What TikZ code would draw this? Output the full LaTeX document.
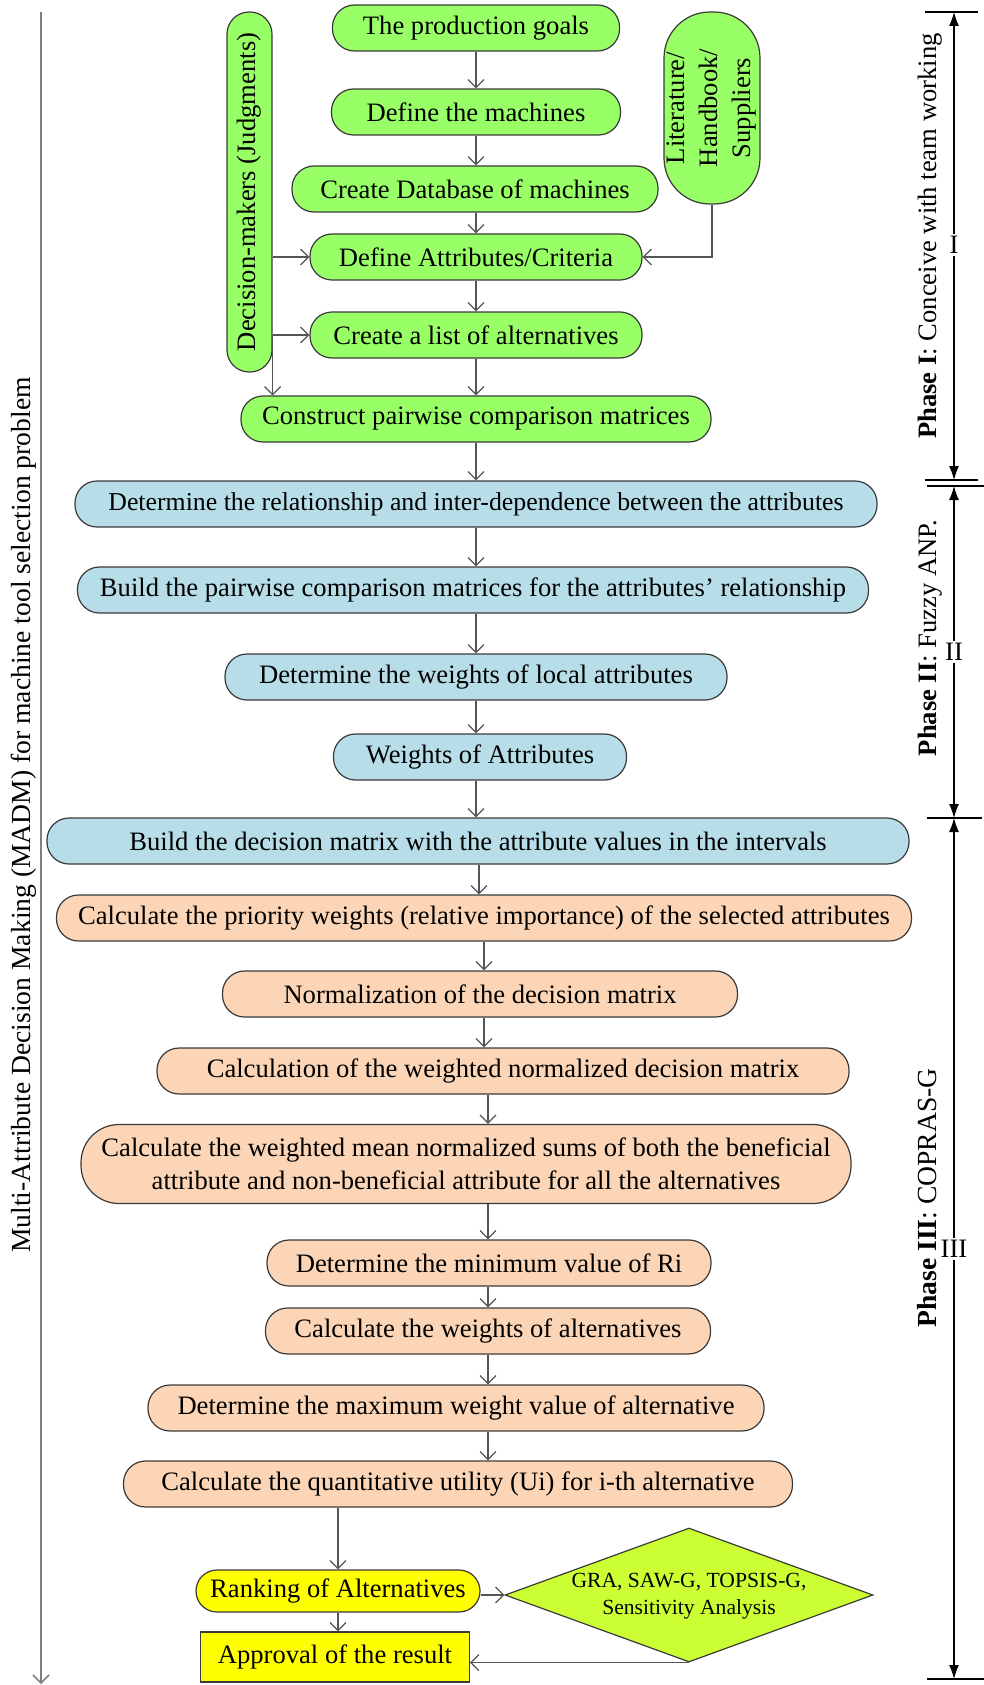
\documentclass[tikz,border=0pt]{standalone}
\usepackage{fontspec}
\setmainfont{Liberation Serif}
\usetikzlibrary{arrows.meta,shapes.geometric}

\definecolor{stepgreen}{HTML}{99FF66}
\definecolor{stepblue}{HTML}{B7DEE8}
\definecolor{steppeach}{HTML}{FBD5B5}
\definecolor{stepyellow}{HTML}{FFFF00}
\definecolor{steplime}{HTML}{CCFF33}
\definecolor{edgegray}{HTML}{3A3A3A}
\definecolor{linkgray}{HTML}{555555}

\begin{document}
\begin{tikzpicture}[x=0.5pt,y=-0.5pt,
  every node/.style={font=\fontsize{13.3}{16.5}\selectfont},
  stepbox/.style={draw=edgegray, line width=0.6pt, rounded corners=11pt,
    minimum height=23pt, inner xsep=3pt, inner ysep=0pt, align=center},
  greenbox/.style={stepbox, fill=stepgreen},
  bluebox/.style={stepbox, fill=stepblue},
  peachbox/.style={stepbox, fill=steppeach},
  link/.style={draw=linkgray, line width=0.6pt, -{Straight Barb[length=4pt,width=8pt]}},
  phaseline/.style={line width=0.6pt, {Latex[length=7pt,width=5pt]}-{Latex[length=7pt,width=5pt]}},
  ticklinestyle/.style={line width=0.6pt},
  phasetext/.style={rotate=90, anchor=base},
  phasemark/.style={fill=white, inner xsep=1pt, inner ysep=1pt},
]
\useasboundingbox (0,0) rectangle (984,1685);

% ---------- arrow columns ----------
\coordinate (colA) at (476,0);
\coordinate (colB) at (479,0);
\coordinate (colC) at (484,0);
\coordinate (colD) at (488,0);

% ---------- Phase I : green steps ----------
\node[greenbox, minimum width=143.5pt] (pg)    at (476,28)  {The production goals};
\node[greenbox, minimum width=144.5pt] (dmach) at (476,112) {Define the machines};
\node[greenbox, minimum width=183pt]   (db)    at (475,189) {Create Database of machines};
\node[greenbox, minimum width=166pt]   (da)    at (476,257) {Define Attributes/Criteria};
\node[greenbox, minimum width=166pt]   (cl)    at (476,335) {Create a list of alternatives};
\node[greenbox, minimum width=235pt]   (cons)  at (476,419) {Construct pairwise comparison matrices};

\node[greenbox, rotate=90, minimum width=180pt, minimum height=22.5pt] (dmk) at (249.5,192)
  {Decision-makers (Judgments)};
\node[greenbox, rotate=90, minimum width=96pt, minimum height=48pt, rounded corners=23pt] (lit) at (712,108)
  {Literature/\\Handbook/\\Suppliers};

% ---------- Phase II : blue steps ----------
\node[bluebox, minimum width=401pt, inner xsep=0pt, font=\fontsize{12.9}{16}\selectfont] (rel) at (476,504)
  {Determine the relationship and inter-dependence between the attributes};
\node[bluebox, minimum width=395.5pt] (bpw) at (473,590) {Build the pairwise comparison matrices for the attributes’ relationship};
\node[bluebox, minimum width=251pt]   (dwl) at (476,677) {Determine the weights of local attributes};
\node[bluebox, minimum width=146.5pt] (woa) at (480,757) {Weights of Attributes};
\node[bluebox, minimum width=431pt]   (bdm) at (478,841) {Build the decision matrix with the attribute values in the intervals};

% ---------- Phase III : peach steps ----------
\node[peachbox, minimum width=427.5pt] (cpw) at (484,918)  {Calculate the priority weights (relative importance) of the selected attributes};
\node[peachbox, minimum width=257.5pt] (nrm) at (480,994)  {Normalization of the decision matrix};
\node[peachbox, minimum width=346pt]   (cwn) at (503,1071) {Calculation of the weighted normalized decision matrix};
\node[peachbox, minimum width=385pt, minimum height=39.5pt, rounded corners=19pt] (wms) at (466,1164)
  {Calculate the weighted mean normalized sums of both the beneficial\\attribute and non-beneficial attribute for all the alternatives};
\node[peachbox, minimum width=222pt]   (mri) at (489,1263) {Determine the minimum value of Ri};
\node[peachbox, minimum width=222.5pt] (wal) at (488,1331) {Calculate the weights of alternatives};
\node[peachbox, minimum width=308pt]   (mxw) at (456,1408) {Determine the maximum weight value of alternative};
\node[peachbox, minimum width=334.5pt] (qu)  at (458,1484) {Calculate the quantitative utility (Ui) for i-th alternative};

% ---------- result ----------
\node[stepbox, fill=stepyellow, minimum width=142pt, minimum height=21pt, rounded corners=10.5pt] (rank) at (338,1591)
  {Ranking of Alternatives};
\node[draw=edgegray, line width=0.6pt, fill=stepyellow, minimum width=134.5pt, minimum height=25pt, inner sep=0pt] (appr) at (335,1657)
  {Approval of the result};
\node[diamond, draw=edgegray, line width=0.6pt, fill=steplime, minimum width=184pt, minimum height=67pt, inner sep=0pt] (dia) at (689,1595) {};
\node[font=\fontsize{10.8}{13.5}\selectfont, align=center, inner sep=0pt] (diatxt) at (689,1596)
  {GRA, SAW-G, TOPSIS-G,\\Sensitivity Analysis};

% ---------- connectors ----------
\draw[link] (pg.south -| colA)    -- (dmach.north -| colA);
\draw[link] (dmach.south -| colA) -- (db.north -| colA);
\draw[link] (db.south -| colA)    -- (da.north -| colA);
\draw[link] (da.south -| colA)    -- (cl.north -| colA);
\draw[link] (cl.south -| colA)    -- (cons.north -| colA);
\draw[link] (dmk.south |- da.west) -- (da.west);
\draw[link] (dmk.south |- cl.west) -- (cl.west);
\draw[link] (dmk.south |- cl.west) -- (dmk.south |- cons.north);
\draw[link] (lit.west) |- (da.east);

\draw[link] (cons.south -| colA) -- (rel.north -| colA);
\draw[link] (rel.south -| colA)  -- (bpw.north -| colA);
\draw[link] (bpw.south -| colA)  -- (dwl.north -| colA);
\draw[link] (dwl.south -| colA)  -- (woa.north -| colA);
\draw[link] (woa.south -| colA)  -- (bdm.north -| colA);

\draw[link] (bdm.south -| colB) -- (cpw.north -| colB);
\draw[link] (cpw.south -| colC) -- (nrm.north -| colC);
\draw[link] (nrm.south -| colC) -- (cwn.north -| colC);
\draw[link] (cwn.south -| colD) -- (wms.north -| colD);
\draw[link] (wms.south -| colD) -- (mri.north -| colD);
\draw[link] (mri.south -| colD) -- (wal.north -| colD);
\draw[link] (wal.south -| colD) -- (mxw.north -| colD);
\draw[link] (mxw.south -| colD) -- (qu.north -| colD);

\draw[link] (rank.north |- qu.south) -- (rank.north);
\draw[link] (rank.south) -- (rank.south |- appr.north);
\draw[link] (rank.east |- dia.west) -- (dia.west);
\draw[link] (dia.south) -- (dia.south -| appr.east);

% ---------- overall axis on the left ----------
\coordinate (axtop) at (41,12);
\coordinate (axbot) at (41,1684);
\draw[draw=gray, line width=0.8pt, -{Straight Barb[length=4pt,width=8pt]}] (axtop) -- (axbot);
\node[rotate=90, anchor=base, font=\fontsize{13.8}{16.5}\selectfont] (madm) at (31,815)
  {Multi-Attribute Decision Making (MADM) for machine tool selection problem};

% ---------- phase dimension lines on the right ----------
\coordinate (p1t) at (954,12);   \coordinate (p1b) at (954,480);
\coordinate (p2t) at (954,486);  \coordinate (p2b) at (954,818);
\coordinate (p3t) at (954,818);  \coordinate (p3b) at (954,1679);
\draw[ticklinestyle] (925,12) -- (978,12);
\draw[ticklinestyle] (925,480) -- (978,480);
\draw[ticklinestyle] (927,486) -- (984,486);
\draw[ticklinestyle] (927,818) -- (982,818);
\draw[ticklinestyle] (927,1679) -- (984,1679);
\draw[phaseline] (p1t) -- (p1b);
\draw[phaseline] (p2t) -- (p2b);
\draw[phaseline] (p3t) -- (p3b);
\node[phasemark] (m1) at (954,245)  {I};
\node[phasemark] (m2) at (954,652)  {II};
\node[phasemark] (m3) at (954,1249) {III};

\node[phasetext] (ph1) at (936,236)  {\textbf{Phase I}: Conceive with team working};
\node[phasetext] (ph2) at (936,638)  {\textbf{Phase II}: Fuzzy ANP.};
\node[phasetext, font=\fontsize{13.8}{16.5}\selectfont] (ph3) at (936,1198) {\textbf{Phase III}: COPRAS-G};

\end{tikzpicture}
\end{document}
